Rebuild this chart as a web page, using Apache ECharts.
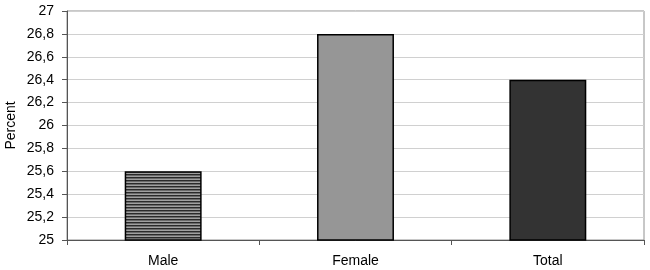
<!DOCTYPE html>
<html><head><meta charset="utf-8">
<script src="https://cdn.jsdelivr.net/npm/echarts@6/dist/echarts.min.js"></script>
<style>html,body{margin:0;padding:0;background:#fff}#c{width:650px;height:270px}</style>
</head><body><div id="c"></div>
<script>
const categories = ['Male', 'Female', 'Total'];
const values = [25.6, 26.8, 26.4];
const yTicks = ['25','25,2','25,4','25,6','25,8','26','26,2','26,4','26,6','26,8','27'];

const pc = document.createElement('canvas');
pc.width = 4; pc.height = 3;
const ctx = pc.getContext('2d');
ctx.fillStyle = '#a0a0a0'; ctx.fillRect(0,0,4,3);
ctx.fillStyle = '#2a2a2a'; ctx.fillRect(0,0,4,1);
ctx.fillStyle = '#6a6a6a'; ctx.fillRect(0,1,4,1);

const fills = [{image: pc, repeat: 'repeat'}, '#969696', '#333333'];

const chart = echarts.init(document.getElementById('c'));
chart.setOption({
  animation: false,
  grid: {left: 67, right: 6, top: 11, bottom: 30, show: true, borderColor: '#909090', borderWidth: 1,
         containLabel: false, outerBoundsMode: 'none'},
  xAxis: {
    type: 'category', data: categories,
    axisLine: {lineStyle: {color: '#555', width: 1}},
    axisTick: {show: true, length: 5, lineStyle: {color: '#555'}},
    axisLabel: {color: '#000', fontFamily: 'Liberation Sans', fontSize: 14, margin: 14}
  },
  yAxis: {
    type: 'value', min: 25, max: 27, interval: 0.2,
    name: 'Percent', nameLocation: 'middle', nameGap: 49, nameMoveOverlap: false,
    nameTextStyle: {color: '#000', fontFamily: 'Liberation Sans', fontSize: 14},
    axisLine: {show: true, lineStyle: {color: '#555', width: 1}},
    axisTick: {show: true, length: 5, lineStyle: {color: '#555'}},
    axisLabel: {color: '#000', fontFamily: 'Liberation Sans', fontSize: 14, margin: 13,
      formatter: function(v){ const i = Math.round((v-25)/0.2); return yTicks[i]; }},
    splitLine: {lineStyle: {color: '#d0d0d0', width: 1}}
  },
  series: [{
    type: 'bar', barWidth: '40%',
    data: values.map((v,i)=>({value: v, itemStyle: {color: fills[i]}})),
    itemStyle: {borderColor: '#000', borderWidth: 1.5}
  }]
});
</script></body></html>
